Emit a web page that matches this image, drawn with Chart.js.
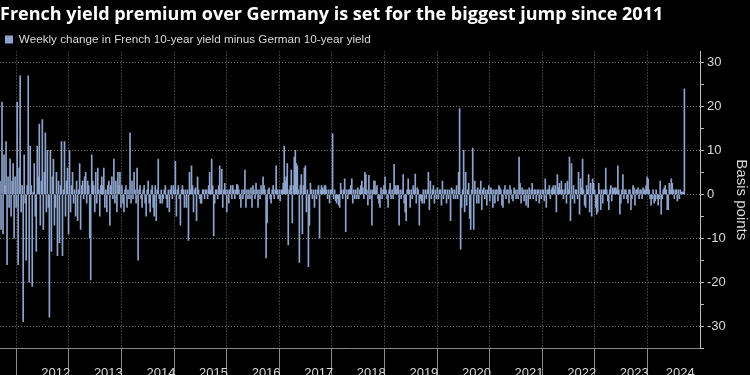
<!DOCTYPE html>
<html>
<head>
<meta charset="utf-8">
<script src="https://cdn.jsdelivr.net/npm/chart.js@4/dist/chart.umd.min.js"></script>
<style>
  html, body { margin: 0; padding: 0; background: #000; }
  #wrap { width: 750px; height: 375px; position: relative; }
</style>
</head>
<body>
<div id="wrap"><canvas id="spreadChart"></canvas></div>
<script>
// weekly change, French 10y minus German 10y yield (basis points)
const weekly2011to2013 = [
  3, -8, 21, -9, 9, 2, 12, -16, 4, -3,
  8, -5, 3, 7, -10, 4, -3, 21, -16, 6,
  27, -4, 2, -29, 9, -2, -15, 2, 27, -20,
  11, 2, -21, 0.5, 7, -5, -13, 11, 4, 16,
  -7, 3, 17, -8, 5, 14, -4, 10, -3, -28,
  10, -13, 4, 8, -7, -3, 5, -14, 3,
  -11, 2, 12, -14, 1, 12, -5, 3, 6, -9,
  10, -4, 2, 5, -2, 1, -5, 3, -6, 1,
  7, -8, 2, 3, -1, 4, 5, -2, 3, 2,
  -10, -19.5, 9, 3, 2, -4, 5, -2, 6, 1,
  -5, 2, 4, 2, 6, -3, 1, -4, 2, 3,
  -7, 2, 4, -1, 8, -2, 3, -4, 5, 2
];
const weekly2013to2015 = [
  5, -3, 2, -2, -4, 1, 2, -3, 1, -1,
  14, -2, 3, -1, 5, 1, -2, 6, -15, 1,
  2, -1, -3, 1, 2, -2, -5, 1, 3, -2,
  -4, 1, 2, -3, -5, 2, -6, 1, 8, -1,
  -2, 1, -2, -1, 1, 2, -1, -3, 1, -4,
  1, 2, -1, 2, 1, 7.5, -5, 1, 2,
  -1, -7, 1, 2, 1, -3, 1, -3, 1, -10.5,
  5, 1, 6.5, 2, -4, 1, 1.5, -6, 4, 1,
  -1, -2, -2, 1, 1, -1, 1, 1, -1, 2,
  5, 1, 8, 2, -9.5, -2, 1, 1, -1, 2,
  6.5, 1, 5.7, -3, 1, 2.5, 1, -4, 1, -2,
  1, 2, -1, 2, 1
];
const weekly2015to2017 = [
  -1, 1, 2.3, 2, 1, -1, -3, 1, -1, 1,
  5.5, -3, 1, -1, 1, -1, 1.5, -3, 2, 1,
  -1, 2.5, 1, -3, 1, -1, 2, 1, 4, 2,
  1, -14.5, -6.5, 1, 1.5, -1, -2, 1, 2, -1,
  1, 6.5, 1, -1, 1, -1.5, 1, 1, 2.5, 11,
  3, 4, 7, -11.5, 1, 2, 5.5, -6.5, 2,
  8.5, 10, 7, 6.5, 1, -15.5, 2, 4.5, -9, 2,
  6, 6.5, -4, 1, -16.5, -7, 2.5, 1, -1, 1,
  -3, 1, -1, 1, 2, -10, 1, 2, 1.5, 1,
  2, 2, 1, -1, 1, -2, 1, 1, 13.8, -1,
  1, -1.5, -2, -1, -2.5, -3, 2.5, 1, -1, 1,
  3.5, -8.5, 1, -1, 1
];
const weekly2017to2020 = [
  1, 2, 3.5, -2, 1, -1, 1, -1, 1.5, -1,
  1, 2, 3, 1.5, -1, 5, 4.5, 1, -2.5, 4.3,
  -1, 1, -7, 1, 3, 3, 1, 2, -1, -2,
  -3, 1.5, -1, 1, 2, 4, 1, -1, -3, 1,
  2.5, -1, 1, -1, 6.8, 2, 1, 2, 2, -7,
  1, -1, 1, 4.5, -2, -4, -6, 1, 3.5,
  1, -3, 1, -1, 2, 1, 4.6, -2, 1.5, 1,
  -7, -1, -1.5, -2, 1, -2, 1, -1, 1, 5,
  -3.5, 3, -1, 1, 2, -2, 1, -1, 1.5, -1,
  1, 1, -2.5, 3, -1, 1, 1, -2, 1, -1,
  1, -6, 1.5, 1, -1, 1, -1, 2, -1, 5,
  19.5, -12.5, -3, 1, 10
];
const weekly2020to2022 = [
  -4, 5, -2.5, 1, 2.5, -5.5, -8, 1, 10.5, -8,
  3, 1, -2, 1.5, -2, 1, 3, -3.5, 1, 1.5,
  -1, 1, -2.5, 1, 2, -1.5, 1.5, 1, -3, 1,
  -2, 1, 1, -1.5, 2, 1.5, 1, -2.5, -3, 1,
  2, -1, 1, 1, -2, 2, 1, -1, -1.5, 1.5,
  1, -1, 1, -1, 8.5, 2.5, -2, 1.5, 1,
  -1.5, 1, -2.5, 1, -3, 1.5, -1, 1, 2.5, -1,
  1, 1, -1.5, 1, 1, -2, 1, -1, 1, 1,
  -1.5, 3.5, -3, 1, 1, 2, -1, 1, 1.5, 2,
  1, 2, -4, 4.5, 1.5, 2.5, 1, 3, 1, -1,
  1, 2.5, -2, 3, 1, 8.5, -6, 7, -1, 2,
  -2, 1, 1, -1, 5
];
const weekly2022to2024 = [
  -4.5, 3.5, 1.5, 8, 1, -2.5, -3, 2, 1, 4.5,
  -4, 2.5, -5, 3.5, 2.5, 1, -3, -4.5, -4, 2.5,
  1, -3.5, 1, -2, 1, 1, 6, 1, -1.5, -3.5,
  1, 2, -1.5, 1.5, 1, 1.5, 1.5, 1, 6.5, 1,
  -4.5, -2, 1, 4.5, -1, 1, 1, -1, -2, 1,
  1, -3.5, -1, 2, 1.5, -2.5, 1, 1, 1.5,
  -1, 1, 1, -1, 1.5, 1, 1, 2, 4, 3.5,
  1, -1, -2.5, -1, 1, -2, -1.5, 1, -1, -2.5,
  -1, 3, -4.5, -1, 1, 1.5, 2, 1, -3.5, -3.5,
  2.5, 1, 3.5, 2.5, 1, -1, 1, 1, -1.5, 1,
  -1, 1, 0.5, 0.5, 0.5, 24
];

const yearLabels = ['2012', '2013', '2014', '2015', '2016', '2017', '2018',
  '2019', '2020', '2021', '2022', '2023', '2024'];
const yTicks = [-30, -20, -10, 0, 10, 20, 30];

const firstWeek = 2011.44;          // week ending 10 Jun 2011, as decimal year
const weekStep = 7 / 365.25;
const axisMin = 2011.44;
const axisMax = 2024.75;

const weeklyChange = [].concat(weekly2011to2013, weekly2013to2015, weekly2015to2017,
  weekly2017to2020, weekly2020to2022, weekly2022to2024);

const points = weeklyChange.map((v, i) => ({ x: firstWeek + i * weekStep, y: v }));

const gridGray = 'rgba(150,150,150,0.75)';
const textGray = '#d9d9d9';

const ctx = document.getElementById('spreadChart').getContext('2d');
new Chart(ctx, {
  type: 'bar',
  data: {
    datasets: [{
      label: 'Weekly change in French 10-year yield minus German 10-year yield',
      data: points,
      backgroundColor: '#8ea4cc',
      borderWidth: 0,
      barPercentage: 1,
      categoryPercentage: 1
    }]
  },
  options: {
    responsive: true,
    maintainAspectRatio: false,
    animation: false,
    layout: { padding: 0 },
    plugins: {
      title: {
        display: true,
        text: 'French yield premium over Germany is set for the biggest jump since 2011',
        align: 'start',
        color: '#ffffff',
        font: { family: 'Open Sans', size: 18, weight: 'bold' },
        padding: { top: 4, bottom: 3 }
      },
      legend: {
        display: true,
        align: 'start',
        maxHeight: 23,
        labels: {
          color: textGray,
          boxWidth: 8,
          boxHeight: 8,
          padding: 5,
          font: { family: 'Liberation Sans', size: 11.7 }
        }
      },
      tooltip: { enabled: false }
    },
    scales: {
      x: {
        type: 'linear',
        min: axisMin,
        max: axisMax,
        offset: false,
        afterBuildTicks: axis => {
          const t = [];
          yearLabels.forEach(y => {
            const yr = Number(y);
            t.push({ value: yr });
            const end = Math.min(yr + 1, axisMax);
            t.push({ value: (yr + end) / 2 });
          });
          axis.ticks = t;
        },
        afterFit: axis => { axis.height = 27; },
        ticks: {
          autoSkip: false,
          maxRotation: 0,
          padding: -12,
          color: textGray,
          font: { family: 'Liberation Sans', size: 13 },
          callback: v => Number.isInteger(v) ? '' : String(Math.floor(v))
        },
        grid: {
          color: c => Number.isInteger(c.tick && c.tick.value) ? gridGray : 'transparent',
          tickColor: c => Number.isInteger(c.tick && c.tick.value) ? '#8a8a8a' : 'transparent',
          tickLength: 30,
          lineWidth: 1
        },
        border: { display: true, color: '#8a8a8a', dash: [1, 2] }
      },
      y: {
        position: 'right',
        min: -35,
        max: 32.5,
        afterBuildTicks: axis => {
          const t = [];
          for (let v = -35; v <= 30; v += 5) t.push({ value: v });
          axis.ticks = t;
        },
        afterFit: axis => { axis.width = 50; },
        ticks: {
          padding: 3,
          color: textGray,
          font: { family: 'Liberation Sans', size: 13 },
          callback: v => yTicks.includes(v) ? String(v) : ''
        },
        grid: {
          color: c => yTicks.includes(c.tick && c.tick.value) ? gridGray : 'transparent',
          tickColor: '#bdbdbd',
          tickLength: 4
        },
        border: { display: true, color: '#bdbdbd', dash: [1, 2] },
        title: {
          display: true,
          text: 'Basis points',
          color: textGray,
          font: { family: 'Liberation Sans', size: 15 },
          padding: 0
        }
      }
    }
  }
});
</script>
</body>
</html>
